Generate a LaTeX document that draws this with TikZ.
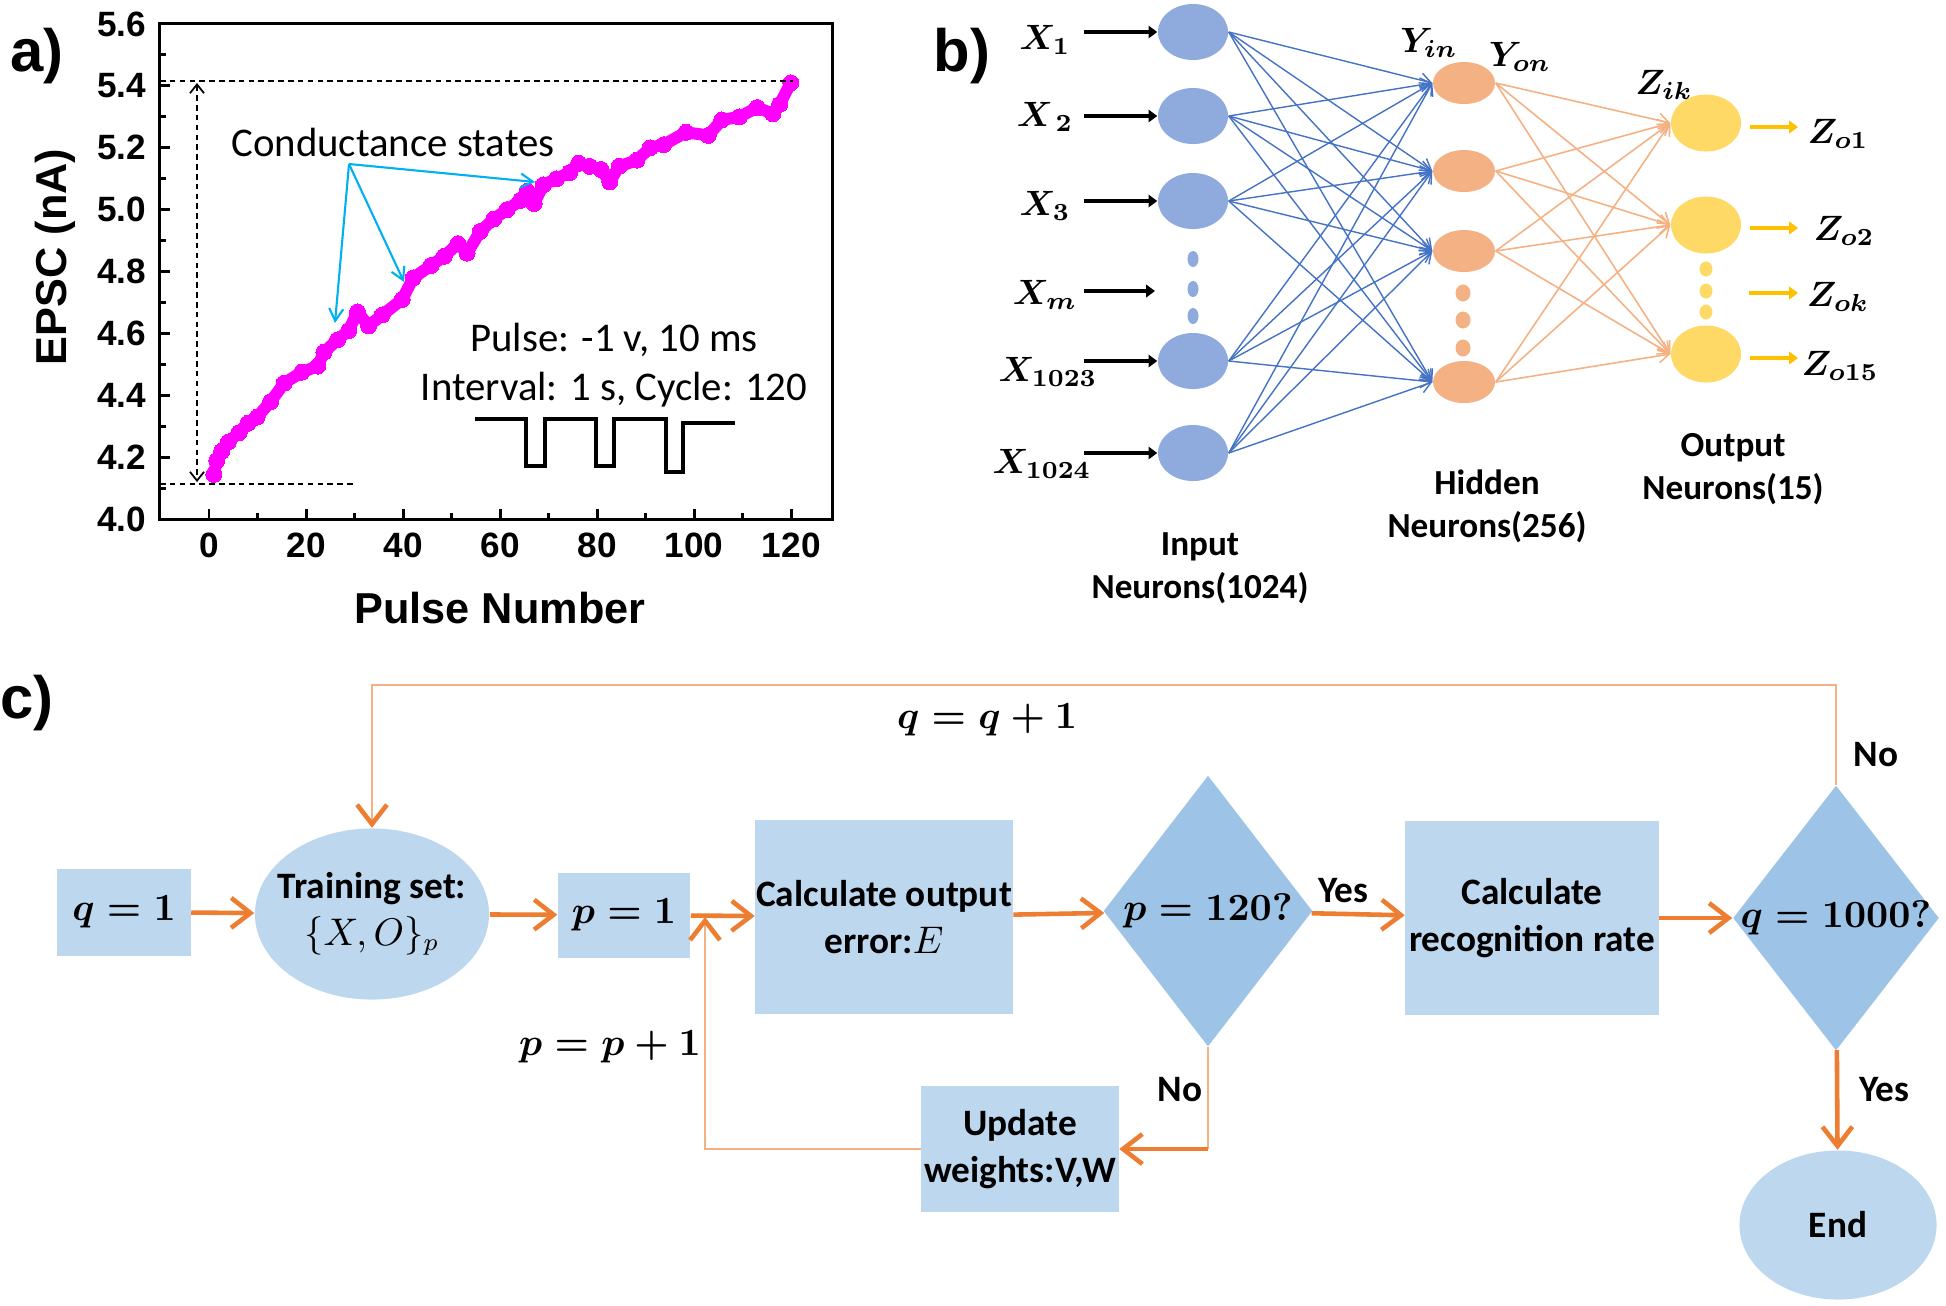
\documentclass[tikz,border=0pt]{standalone}
\usepackage{amsmath,amssymb}
\usepackage[no-math]{fontspec}
\setmainfont{Carlito}
\newfontfamily\arialfont{Liberation Sans}
\usepackage{xcolor}
\usepackage{tikz}
\usetikzlibrary{arrows.meta,shapes.geometric,calc}

\definecolor{inblue}{HTML}{8FAADC}
\definecolor{hidorange}{HTML}{F4B183}
\definecolor{outyellow}{HTML}{FFD966}
\definecolor{edgeblue}{HTML}{4472C4}
\definecolor{edgeorange}{HTML}{F4B183}
\definecolor{zyellow}{HTML}{FFC000}
\definecolor{boxblue}{HTML}{BDD7EE}
\definecolor{diablue}{HTML}{9DC3E6}
\definecolor{floworange}{HTML}{ED7D31}
\definecolor{looporange}{HTML}{F4B183}
\definecolor{statecyan}{HTML}{00B0F0}
\definecolor{epscpink}{HTML}{FF00FF}

\begin{document}
\begin{tikzpicture}[x=0.01cm, y=-0.01cm,
  panel/.style={font=\arialfont\fontsize{17}{20}\selectfont\bfseries},
  ticklab/.style={font=\arialfont\fontsize{10}{12}\selectfont\bfseries},
  axistitle/.style={font=\arialfont\fontsize{12.3}{14}\selectfont\bfseries},
  note/.style={font=\fontsize{11.6}{14}\selectfont},
  axisline/.style={line width=0.85pt},
  guide/.style={dash pattern=on 1.6pt off 1.2pt, line width=0.5pt},
  statearrow/.style={statecyan, line width=0.6pt, -{Straight Barb[length=3.5pt,width=4pt]}},
  epsc/.style={draw=epscpink, line width=0.12cm, line join=round, mark=*, mark size=0.08cm,
    mark options={fill=epscpink, draw=epscpink, line width=0pt}},
  neuron/.style={ellipse, inner sep=0pt},
  inneuron/.style={neuron, fill=inblue, minimum width=0.70cm, minimum height=0.56cm},
  hidneuron/.style={neuron, fill=hidorange, minimum width=0.62cm, minimum height=0.42cm},
  outneuron/.style={neuron, fill=outyellow, minimum width=0.70cm, minimum height=0.57cm},
  indot/.style={neuron, fill=inblue, minimum width=0.11cm, minimum height=0.16cm},
  hiddot/.style={neuron, fill=hidorange, minimum width=0.15cm, minimum height=0.17cm},
  outdot/.style={neuron, fill=outyellow, minimum width=0.13cm, minimum height=0.15cm},
  xlab/.style={font=\fontsize{10}{12}\selectfont\boldmath},
  caption/.style={align=center, font=\fontsize{10}{12.3}\selectfont\bfseries},
  inarrow/.style={line width=1pt, -{Triangle[length=2.5pt,width=3.5pt]}},
  zarrow/.style={zyellow, line width=1pt, -{Triangle[length=2.5pt,width=3.5pt]}},
  bedge/.style={edgeblue, line width=0.4pt, -{Straight Barb[length=3pt,width=4pt]}},
  oedge/.style={edgeorange, line width=0.45pt, -{Straight Barb[length=3pt,width=4pt]}},
  flowbox/.style={rectangle, fill=boxblue, inner sep=0pt, align=center,
    font=\fontsize{10.6}{13.2}\selectfont\bfseries\boldmath},
  flowoval/.style={flowbox, ellipse},
  flowtext/.style={align=center, font=\fontsize{10.6}{13.2}\selectfont\bfseries\boldmath},
  decision/.style={diamond, fill=diablue, inner sep=0pt},
  mathlab/.style={font=\fontsize{11}{13}\selectfont\boldmath},
  flowtxt/.style={font=\fontsize{10.6}{13}\selectfont\bfseries},
  flowarrow/.style={floworange, line width=1.3pt, -{Straight Barb[length=5.5pt,width=8.5pt]}},
  loopline/.style={looporange, line width=0.7pt},
  looptip/.style={-{Straight Barb[length=5.5pt,width=8.5pt,line width=1.3pt,color=floworange]}}
]
\useasboundingbox (0,0) rectangle (1946,1305);

% ---------------- a) EPSC versus pulse number ----------------
\node[panel] (lbla) at (37,56) {a)};
\begin{scope}[shift={(209,1757.6)}, x=0.0485cm, y=3.094cm]
  \draw[axisline] (-10.2,4.0) rectangle (128.5,5.6);
  \foreach \v in {4.0,4.2,4.4,4.6,4.8,5.0,5.2,5.4,5.6}
    \draw[axisline] (-10.2,\v) node[ticklab,left] {\v} -- ++(0.1cm,0pt);
  \foreach \v in {4.1,4.3,4.5,4.7,4.9,5.1,5.3,5.5}
    \draw[axisline] (-10.2,\v) -- ++(0.06cm,0pt);
  \foreach \t in {0,20,40,60,80,100,120}
    \draw[axisline] (\t,4.0) node[ticklab,below] {\t} -- ++(0pt,0.1cm);
  \foreach \t in {10,30,50,70,90,110}
    \draw[axisline] (\t,4.0) -- ++(0pt,0.06cm);
  % measured points
  \draw[epsc] plot coordinates {(1,4.145) (1.6,4.19) (2.6,4.22) (4,4.25) (6.2,4.28) (8,4.31)
    (9.9,4.33) (12.7,4.38) (15.5,4.44) (19.1,4.475) (22.4,4.495) (23.7,4.54) (26.5,4.58)
    (28.8,4.61) (30.6,4.67) (32.9,4.625) (35.7,4.66) (39.8,4.71) (42.1,4.78) (45.8,4.82)
    (48.5,4.85) (51.3,4.89) (53.2,4.86) (55.9,4.93) (58.7,4.97) (61.4,5.00) (64.2,5.03)
    (65.6,5.06) (67.0,5.02) (68.9,5.08) (71.6,5.10) (74.3,5.12) (76.2,5.15) (78.5,5.14)
    (80.8,5.13) (82.6,5.09) (84.5,5.14) (88.2,5.16) (90.9,5.20) (93.7,5.21) (98.3,5.25)
    (102.9,5.24) (105.7,5.29) (109.3,5.30) (113.0,5.33) (116.2,5.31) (117.6,5.34) (119.9,5.41)};
\end{scope}

\coordinate (gtopl) at (160,81);
\coordinate (gtopr) at (793,81);
\coordinate (gbotl) at (160,484);
\coordinate (gbotr) at (355,484);
\coordinate (gup) at (197,83);
\coordinate (gdown) at (197,482);
\draw[guide] (gtopl) -- (gtopr);
\draw[guide] (gbotl) -- (gbotr);
\draw[guide, {Straight Barb[length=2.5pt,width=4pt]}-{Straight Barb[length=2.5pt,width=4pt]}] (gup) -- (gdown);

\node[note] (cstates) at (393,142) {Conductance states};
\coordinate (csorg) at (349,164);
\coordinate (cs1) at (335,323);
\coordinate (cs2) at (404,282);
\coordinate (cs3) at (535,182);
\foreach \c in {cs1,cs2,cs3}
  \draw[statearrow] (csorg) -- (\c);

\node[note] (pulse) at (614,340) {Pulse: -1 v, 10 ms};
\node[note] (interval) at (614,390) {Interval: 1 s, Cycle: 120};
\draw[line width=0.9pt] (475,419) -- (526,419) -- (526,466) -- (545,466) -- (545,419)
  -- (596,419) -- (596,466) -- (614,466) -- (614,419) -- (666,419) -- (666,472)
  -- (683,472) -- (683,423) -- (735,423);

\node[axistitle] (xtitle) at (500,608) {Pulse Number};
\node[axistitle, rotate=90] (ytitle) at (55,257) {EPSC (nA)};

% ---------------- b) network ----------------
\node[panel] (lblb) at (962,56) {b)};

\foreach \n/\y/\ly in {1/32/40, 2/116/117, 3/201/206, 1023/361/372, 1024/453/461} {
  \node[inneuron] (in\n) at (1193,\y) {};
  \coordinate (xs\n) at (1084,\y);
  \draw[inarrow] (xs\n) -- (in\n);
}
\node[xlab] (xl1) at (1045,40) {$X_1$};
\node[xlab] (xl2) at (1045,117) {$X_{\,2}$};
\node[xlab] (xl3) at (1045,206) {$X_3$};
\node[xlab] (xlm) at (1045,295) {$X_m$};
\node[xlab] (xl1023) at (1048,372) {$X_{1023}$};
\node[xlab] (xl1024) at (1042,464) {$X_{1024}$};
\coordinate (xsm) at (1084,291);
\coordinate (xem) at (1155,291);
\draw[inarrow] (xsm) -- (xem);
\foreach \y in {259,289,316}
  \node[indot] (idot\y) at (1193,\y) {};

\foreach \n/\y in {1/83, 2/171, 3/251, 4/382}
  \node[hidneuron] (hid\n) at (1464,\y) {};
\foreach \y in {293,320,348}
  \node[hiddot] (hdot\y) at (1463,\y) {};

\foreach \n/\y in {1/123, 2/225, 3/354}
  \node[outneuron] (out\n) at (1706,\y) {};
\foreach \y in {269,291,312}
  \node[outdot] (odot\y) at (1706,\y) {};

\foreach \i in {1,2,3,1023,1024}
  \foreach \j in {1,...,4}
    \draw[bedge] (in\i.east) -- (hid\j.west);
\foreach \j in {1,...,4}
  \foreach \k in {1,2,3}
    \draw[oedge] (hid\j.east) -- (out\k.west);

\foreach \k/\y in {1/127, 2/228, 3/358} {
  \coordinate (ze\k) at (1798,\y);
  \draw[zarrow, shorten <=0.08cm] (out\k.east |- ze\k) -- (ze\k);
}
\coordinate (zks) at (1749,293);
\coordinate (zke) at (1798,293);
\draw[zarrow] (zks) -- (zke);

\node[xlab] (zo1) at (1838,134) {$Z_{o1}$};
\node[xlab] (zo2) at (1844,231) {$Z_{o2}$};
\node[xlab] (zok) at (1838,297) {$Z_{ok}$};
\node[xlab] (zo15) at (1840,366) {$Z_{o15}$};
\node[xlab] (yin) at (1429,43) {$Y_{in}$};
\node[xlab] (yon) at (1520,57) {$Y_{on}$};
\node[xlab] (zik) at (1664,85) {$Z_{ik}$};

\node[caption] (capin) at (1200,568) {Input\\Neurons(1024)};
\node[caption] (caphid) at (1487,506) {Hidden\\Neurons(256)};
\node[caption] (capout) at (1733,469) {Output\\Neurons(15)};

% ---------------- c) training flow ----------------
\node[panel] (lblc) at (27,703) {c)};

\node[flowbox, minimum width=1.33cm, minimum height=0.87cm] (qone) at (124,912) {$q=1$};
\node[flowoval, minimum width=2.34cm, minimum height=1.71cm,
  label={[flowtext]center:Training set:\\{\unboldmath$\{X,O\}_p$}}] (train) at (372,914) {};
\node[flowbox, minimum width=1.32cm, minimum height=0.85cm] (pone) at (624,915) {$p=1$};
\node[flowbox, minimum width=2.57cm, minimum height=1.93cm] (calcerr) at (884,917)
  {Calculate output\\error:{\unboldmath$E$}};
\node[decision, minimum width=2.09cm, minimum height=2.71cm,
  label={[mathlab]center:$p=120?$}] (pcheck) at (1208,911) {};
\node[flowbox, minimum width=2.53cm, minimum height=1.94cm] (recog) at (1532,918)
  {Calculate\\recognition rate};
\node[decision, minimum width=2.06cm, minimum height=2.65cm,
  label={[mathlab]center:$q=1000?$}] (qcheck) at (1836,918) {};
\node[flowoval, minimum width=1.97cm, minimum height=1.49cm] (endn) at (1838,1225) {End};
\node[flowbox, minimum width=1.97cm, minimum height=1.26cm] (update) at (1020,1149)
  {Update\\weights:V,W};

\draw[flowarrow] (qone) -- (train);
\draw[flowarrow] (train) -- (pone);
\draw[flowarrow] (pone) -- (calcerr);
\draw[flowarrow] (calcerr) -- (pcheck);
\draw[flowarrow] (pcheck) -- (recog);
\draw[flowarrow] (recog) -- (qcheck);
\draw[flowarrow] (qcheck) -- (endn);

\draw[loopline] (pcheck.south) -- (pcheck.south |- update.east);
\draw[flowarrow] (pcheck.south |- update.east) -- (update.east);
\coordinate (pjoin) at (705,917);
\draw[loopline, looptip] (update.west) -| (pjoin);
\coordinate (qtop) at (1100,685);
\draw[loopline, looptip] (qcheck.north) |- (qtop) -| (train.north);

\node[mathlab] (qinc) at (987,720) {$q=q+1$};
\node[mathlab] (pinc) at (610,1047) {$p=p+1$};
\node[flowtxt] (yes1) at (1343,891) {Yes};
\node[flowtxt] (no1) at (1180,1090) {No};
\node[flowtxt] (no2) at (1876,755) {No};
\node[flowtxt] (yes2) at (1884,1090) {Yes};
\end{tikzpicture}
\end{document}
